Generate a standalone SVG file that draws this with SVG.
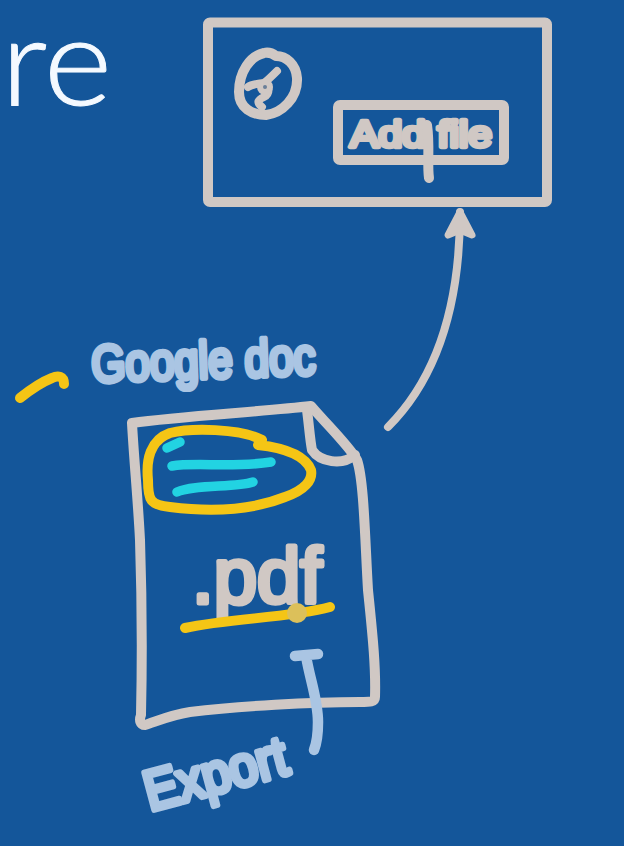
<svg xmlns="http://www.w3.org/2000/svg" width="624" height="846" viewBox="0 0 624 846">
<defs>
<style>
.s{fill:none;stroke-linecap:round;stroke-linejoin:round}
.g{stroke:#d0c8c4;stroke-width:10}
.y{stroke:#f5c515;stroke-width:10}
.c{stroke:#22d3e2;stroke-width:9.500}
.b{stroke:#aac5e3;stroke-width:10.500}
.h{font-family:"Liberation Sans",Arial,sans-serif;font-weight:400;stroke-linejoin:round;stroke-linecap:round;paint-order:stroke}
.hg{fill:#d0c8c4;stroke:#d0c8c4}
.hb{fill:#aac5e3;stroke:#aac5e3}
</style>
<marker id="head" markerUnits="userSpaceOnUse" markerWidth="44" markerHeight="44" refX="32" refY="22" orient="auto">
<path d="M9 10 L32 22 L9 34 L14 22Z" fill="#d0c8c4" stroke="#d0c8c4" stroke-width="7" stroke-linecap="round" stroke-linejoin="round"/>
</marker>
</defs>
<rect width="624" height="846" fill="#14569a"/>
<g id="title">
<text x="1" y="105" font-family="Lato,sans-serif" font-weight="300" font-size="122" fill="#f4f9ff" stroke="#f4f9ff" stroke-width="1" textLength="111" lengthAdjust="spacingAndGlyphs">re</text>
</g>
<g id="window">
<rect x="208" y="22.500" width="339" height="179.500" rx="2" class="s g"/>
<path class="s g" d="M264 53 C250 56 239 72 239 92 C239 108 252 115 266 115 C282 113 298 98 297 78 C296 64 286 56 276 56 C272 53 268 52 264 53Z"/>
<path class="s g" d="M277 71 C272 76 268 80 264 83 C258 84 252 84 248 87 M264 83 C270 86 270 94 264 97 C258 100 256 102 262 107" style="stroke-width:8"/>
<circle cx="265" cy="87" r="8" fill="#d0c8c4"/>
<circle cx="265" cy="87" r="2" fill="#6a7f99"/>
</g>
<g id="add-file">
<rect x="338" y="105" width="166" height="55" rx="2" class="s g"/>
<text class="h hg" x="350" y="147" font-size="36" stroke-width="4.500" textLength="142" lengthAdjust="spacingAndGlyphs">Add file</text>
<path class="s g" d="M427 125 C430 145 427 165 429 178"/>
</g>
<g id="legend">
<path class="s y" d="M20 398 C30 390 42 382 52 378 C58 375 64 376 64 384"/>
<text class="h hb" x="92" y="382" font-size="52" stroke-width="5.500" textLength="224" lengthAdjust="spacingAndGlyphs" transform="rotate(-2 92 382)">Google doc</text>
</g>
<g id="document">
<path class="s g" d="M132 423 C180 416 260 412 311 406 C330 428 348 445 357 460 C364 480 365 540 368 590 C372 630 376 665 375 697 C375 702 370 702 360 702 C310 702 240 706 190 712 C170 715 155 722 145 725 C140 725 139 720 141 715 C142 670 142 600 140 540 C138 500 134 460 132 423Z"/>
<path class="s g" d="M307 410 C309 425 310 440 312 450 C320 462 342 466 355 455"/>
<path class="s y" d="M262 440 C240 428 190 428 170 433 C150 440 146 460 148 480 C148 500 150 505 170 507 C210 512 250 511 285 497 C305 490 313 480 311 470 C305 455 285 448 258 445"/>
<path class="s c" d="M167 448 L180 442"/>
<path class="s c" d="M172 466 C195 462 235 468 271 462"/>
<path class="s c" d="M177 492 C195 484 235 488 253 482"/>
<text class="h hg" x="192" y="603" font-size="78" stroke-width="5" textLength="130" lengthAdjust="spacingAndGlyphs">.pdf</text>
<path class="s y" d="M185 628 C230 618 290 618 330 607"/>
<circle cx="297" cy="613" r="10" fill="#dcc05a"/>
</g>
<g id="export">
<path class="s b" d="M295 656 L318 654 M306 656 C310 680 318 700 318 722 C318 735 316 745 314 750"/>
<text class="h hb" x="150" y="811" font-size="56" stroke-width="6" textLength="146" lengthAdjust="spacingAndGlyphs" transform="rotate(-15 150 811)">Export</text>
</g>
<g id="connectors">
<path class="s g" d="M388 427 C430 385 460 320 460 212" style="stroke-width:8" marker-end="url(#head)"/>
</g>
</svg>
